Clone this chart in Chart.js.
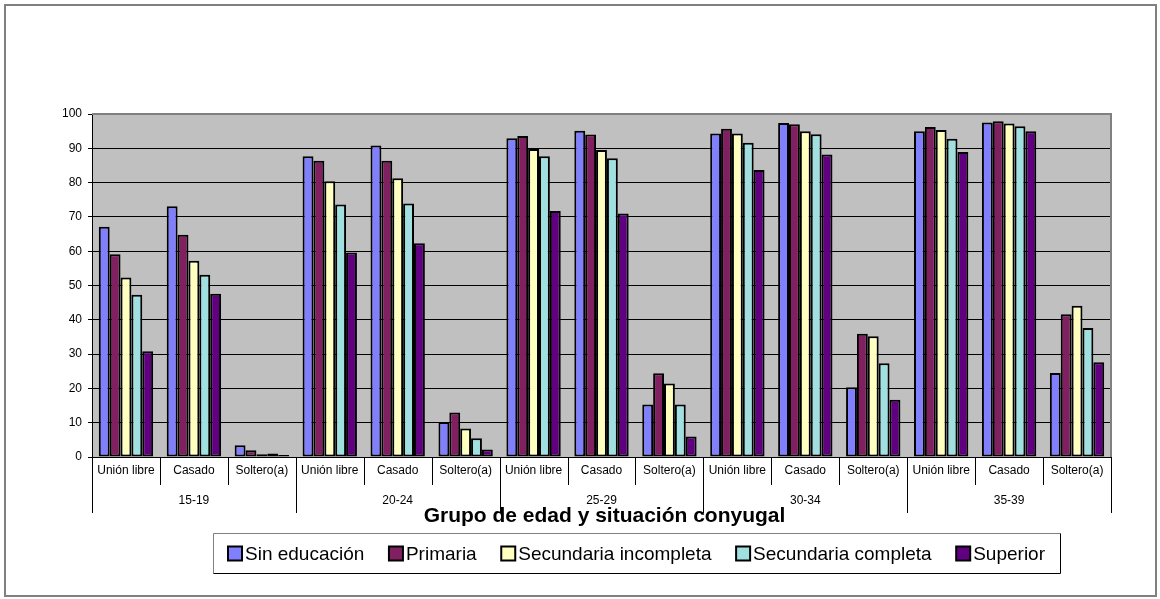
<!DOCTYPE html>
<html>
<head>
<meta charset="utf-8">
<script src="https://cdn.jsdelivr.net/npm/chart.js@4.4.0/dist/chart.umd.min.js"></script>
<style>
  html, body { margin: 0; padding: 0; background: #fff; }
  #wrap { width: 1160px; height: 599px; }
</style>
</head>
<body>
<div id="wrap"><canvas id="c" width="1160" height="599"></canvas></div>
<script>
// ---- Data ----
const categories = [
  'Unión libre', 'Casado', 'Soltero(a)',
  'Unión libre', 'Casado', 'Soltero(a)',
  'Unión libre', 'Casado', 'Soltero(a)',
  'Unión libre', 'Casado', 'Soltero(a)',
  'Unión libre', 'Casado', 'Soltero(a)'
];
const groups = ['15-19', '20-24', '25-29', '30-34', '35-39'];
const seriesNames = ['Sin educación', 'Primaria', 'Secundaria incompleta', 'Secundaria completa', 'Superior'];

const sinEducacion  = [67.1, 73.1, 3.4, 87.7, 90.8, 10.2, 92.9, 95.1, 15.3, 94.3, 97.4, 20.3, 95.0, 97.5, 24.5];
const primaria      = [59.1, 64.8, 2.0, 86.4, 86.4, 13.0, 93.6, 94.0, 24.4, 95.7, 97.0, 35.9, 96.2, 97.9, 41.6];
const secIncompleta = [52.3, 57.2, 0.8, 80.4, 81.3,  8.3, 89.8, 89.5, 21.4, 94.3, 95.0, 35.2, 95.3, 97.2, 44.1];
const secCompleta   = [47.3, 53.1, 1.0, 73.6, 73.9,  5.5, 87.7, 87.1, 15.3, 91.6, 94.1, 27.3, 92.8, 96.4, 37.6];
const superior      = [30.8, 47.6, 0.6, 59.6, 62.3,  2.2, 71.7, 71.0,  6.0, 83.7, 88.2, 16.7, 88.9, 95.0, 27.6];

const yTicks = [0, 10, 20, 30, 40, 50, 60, 70, 80, 90, 100];
const axisTitle = 'Grupo de edad y situación conyugal';

const colors = ['#8080FF', '#802060', '#FFFFC0', '#A0E0E0', '#600080'];
const seriesValues = [sinEducacion, primaria, secIncompleta, secCompleta, superior];

const FONT = "'Liberation Sans', Arial, sans-serif";

const decorPlugin = {
  id: 'decor',
  beforeDraw(chart) {
    const { ctx, chartArea: a } = chart;
    ctx.save();
    ctx.fillStyle = '#ffffff';
    ctx.fillRect(0, 0, chart.width, chart.height);
    ctx.fillStyle = '#C0C0C0';
    ctx.fillRect(a.left, a.top, a.right - a.left, a.bottom - a.top);
    ctx.restore();
  },
  afterDraw(chart) {
    const { ctx, chartArea: a } = chart;
    const xs = chart.scales.x;
    ctx.save();
    // plot area top/right border
    ctx.strokeStyle = '#808080';
    ctx.lineWidth = 2;
    ctx.beginPath();
    ctx.moveTo(a.left, a.top);
    ctx.lineTo(a.right, a.top);
    ctx.lineTo(a.right, a.bottom);
    ctx.stroke();

    // category labels and separators
    const w = xs.getPixelForValue(1) - xs.getPixelForValue(0);
    ctx.fillStyle = '#000';
    ctx.font = '12px ' + FONT;
    ctx.textAlign = 'center';
    ctx.textBaseline = 'middle';
    categories.forEach((c, i) => {
      ctx.fillText(c, xs.getPixelForValue(i), a.bottom + 14);
    });
    ctx.strokeStyle = '#000';
    ctx.lineWidth = 1;
    for (let i = 0; i <= categories.length; i++) {
      const px = Math.round(xs.getPixelForValue(0) - w / 2 + i * w) + 0.5;
      const len = (i % 3 === 0) ? 56 : 28;
      ctx.beginPath();
      ctx.moveTo(px, a.bottom);
      ctx.lineTo(px, a.bottom + len);
      ctx.stroke();
    }
    groups.forEach((g, k) => {
      ctx.fillText(g, xs.getPixelForValue(k * 3 + 1), a.bottom + 44);
    });

    // axis title
    ctx.font = 'bold 21px ' + FONT;
    ctx.fillText(axisTitle, (a.left + a.right) / 2 + 3, a.bottom + 59);

    // legend
    const bx = 213, by = 533, bw = 847, bh = 40;
    ctx.lineWidth = 1;
    ctx.strokeStyle = '#808080';
    ctx.beginPath();
    ctx.moveTo(bx + 0.5, by + bh + 0.5);
    ctx.lineTo(bx + 0.5, by + 0.5);
    ctx.lineTo(bx + bw + 0.5, by + 0.5);
    ctx.stroke();
    ctx.strokeStyle = '#000';
    ctx.beginPath();
    ctx.moveTo(bx + bw + 0.5, by + 0.5);
    ctx.lineTo(bx + bw + 0.5, by + bh + 0.5);
    ctx.lineTo(bx + 0.5, by + bh + 0.5);
    ctx.stroke();

    ctx.font = '19px ' + FONT;
    ctx.textAlign = 'left';
    const box = 14, gapBT = 3;
    const tws = seriesNames.map(n => ctx.measureText(n).width);
    const itemsW = tws.reduce((s, t) => s + t + box + gapBT, 0);
    const margin = 15;
    const gap = (bw - 2 * margin - itemsW) / (seriesNames.length - 1);
    let x = bx + margin;
    const cy = by + bh / 2 + 0.5;
    seriesNames.forEach((n, i) => {
      ctx.fillStyle = colors[i];
      ctx.fillRect(x, cy - box / 2, box, box);
      ctx.strokeStyle = '#000';
      ctx.lineWidth = 2;
      ctx.strokeRect(x, cy - box / 2, box, box);
      ctx.fillStyle = '#000';
      ctx.fillText(n, x + box + gapBT, cy + 1);
      x += box + gapBT + tws[i] + gap;
    });

    // outer border
    ctx.strokeStyle = '#808080';
    ctx.lineWidth = 2;
    ctx.strokeRect(5, 5, 1151, 591);
    ctx.restore();
  }
};

new Chart(document.getElementById('c'), {
  type: 'bar',
  data: {
    labels: categories,
    datasets: seriesNames.map((name, i) => ({
      label: name,
      data: seriesValues[i],
      backgroundColor: colors[i],
      borderColor: '#000',
      borderWidth: 2,
      borderSkipped: false,
      barPercentage: 1.0,
      categoryPercentage: 0.8
    }))
  },
  options: {
    responsive: false,
    animation: false,
    devicePixelRatio: 1,
    layout: { padding: { top: 114, right: 49, bottom: 0, left: 0 } },
    plugins: { legend: { display: false }, tooltip: { enabled: false }, title: { display: false } },
    scales: {
      x: {
        type: 'category',
        offset: true,
        grid: { display: false },
        border: { display: true, color: '#000', width: 1 },
        ticks: { display: false },
        afterFit(scale) { scale.height = 142; }
      },
      y: {
        min: 0,
        max: 100,
        afterBuildTicks(scale) { scale.ticks = yTicks.map(v => ({ value: v })); },
        grid: { color: '#000', lineWidth: 1, drawTicks: true, tickLength: 4 },
        border: { display: true, color: '#000', width: 1 },
        ticks: { color: '#000', font: { family: FONT, size: 12 }, padding: 6 },
        afterFit(scale) { scale.width = 92; }
      }
    }
  },
  plugins: [decorPlugin]
});
</script>
</body>
</html>
